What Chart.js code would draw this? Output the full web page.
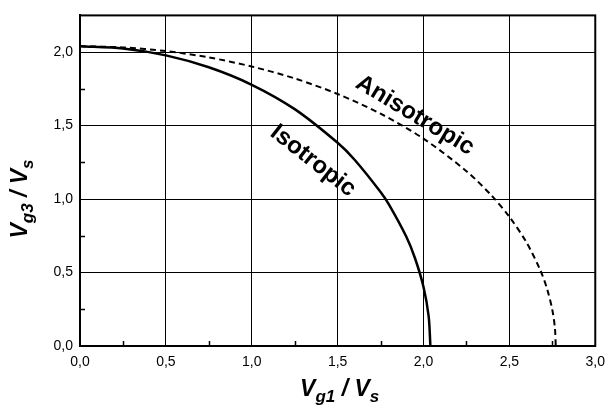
<!DOCTYPE html>
<html>
<head>
<meta charset="utf-8">
<script src="https://cdn.jsdelivr.net/npm/chart.js@4"></script>
<style>
  html, body { margin: 0; padding: 0; background: #fff; }
</style>
</head>
<body>
<canvas id="chart" width="613" height="413"></canvas>
<script>
// curves
const isoX = [0, 0.25, 0.5, 0.75, 1.0, 1.25, 1.5, 1.6, 1.75, 1.8, 1.9, 1.95, 2.0, 2.03, 2.04];
const isoY = [2.04, 2.025, 1.978, 1.897, 1.778, 1.612, 1.383, 1.266, 1.048, 0.96, 0.743, 0.599, 0.402, 0.202, 0];

const anisoX = [0, 0.25, 0.5, 0.75, 1.0, 1.25, 1.5, 1.75, 2.0, 2.25, 2.4, 2.5, 2.6, 2.68, 2.72, 2.75, 2.765, 2.77];
const anisoY = [2.04, 2.032, 2.007, 1.964, 1.902, 1.821, 1.715, 1.581, 1.411, 1.19, 1.019, 0.879, 0.704, 0.516, 0.386, 0.245, 0.123, 0];

const xTicks = [0, 0.5, 1.0, 1.5, 2.0, 2.5, 3.0];
const yTicks = [0, 0.5, 1.0, 1.5, 2.0];
const xMinor = [0.25, 0.75, 1.25, 1.75, 2.25, 2.75];
const yMinor = [0.25, 0.75, 1.25, 1.75];

const curveLabels = [
  { text: 'Isotropic', x: 1.356, y: 1.26, angle: 38 },
  { text: 'Anisotropic', x: 1.95, y: 1.57, angle: 31 }
];

const FONT = "'Liberation Sans', Arial, Helvetica, sans-serif";
const fmt = v => v.toFixed(1).replace('.', ',');

// draws "V<sub>sub</sub> / V<sub>s</sub>" centred on 0,0 of the current context
function drawRatio(ctx, sub) {
  const big = 'italic bold 23px ' + FONT;
  const small = 'italic bold 17px ' + FONT;
  const parts = [
    { t: 'V', f: big, dy: 0 },
    { t: sub, f: small, dy: 6 },
    { t: ' / ', f: big, dy: 0 },
    { t: 'V', f: big, dy: 0 },
    { t: 's', f: small, dy: 6 }
  ];
  let total = 0;
  parts.forEach(p => { ctx.font = p.f; p.w = ctx.measureText(p.t).width; total += p.w; });
  let x = -total / 2;
  ctx.textBaseline = 'alphabetic';
  ctx.textAlign = 'left';
  parts.forEach(p => {
    ctx.font = p.f;
    ctx.fillText(p.t, x, p.dy);
    x += p.w;
  });
}

const decor = {
  id: 'decor',
  afterDraw(chart) {
    const { ctx, chartArea: a, scales: { x, y } } = chart;
    ctx.save();
    ctx.strokeStyle = '#000';
    ctx.fillStyle = '#000';

    // minor ticks pointing inward
    ctx.lineWidth = 1.5;
    ctx.beginPath();
    xMinor.forEach(v => {
      const px = Math.round(x.getPixelForValue(v)) + 0.5;
      ctx.moveTo(px, a.bottom);
      ctx.lineTo(px, a.bottom - 5);
    });
    yMinor.forEach(v => {
      const py = Math.round(y.getPixelForValue(v)) + 0.5;
      ctx.moveTo(a.left, py);
      ctx.lineTo(a.left + 5, py);
    });
    ctx.stroke();

    // frame
    ctx.lineWidth = 2;
    ctx.strokeRect(a.left, a.top, a.right - a.left, a.bottom - a.top);

    // curve labels
    ctx.font = 'bold 24px ' + FONT;
    ctx.textAlign = 'center';
    ctx.textBaseline = 'middle';
    curveLabels.forEach(l => {
      ctx.save();
      ctx.translate(x.getPixelForValue(l.x), y.getPixelForValue(l.y));
      ctx.rotate(l.angle * Math.PI / 180);
      ctx.fillText(l.text, 0, 0);
      ctx.restore();
    });

    // axis titles
    ctx.save();
    ctx.translate((a.left + a.right) / 2 + 2, 396);
    drawRatio(ctx, 'g1');
    ctx.restore();

    ctx.save();
    ctx.translate(27, 199);
    ctx.rotate(-Math.PI / 2);
    drawRatio(ctx, 'g3');
    ctx.restore();

    ctx.restore();
  }
};

const toPts = (xs, ys) => xs.map((v, i) => ({ x: v, y: ys[i] }));

new Chart(document.getElementById('chart'), {
  type: 'scatter',
  data: {
    datasets: [
      {
        label: 'Isotropic',
        data: toPts(isoX, isoY),
        showLine: true,
        borderColor: '#000',
        borderWidth: 2.5,
        pointRadius: 0,
        tension: 0.3
      },
      {
        label: 'Anisotropic',
        data: toPts(anisoX, anisoY),
        showLine: true,
        borderColor: '#000',
        borderWidth: 2,
        borderDash: [6, 4],
        pointRadius: 0,
        tension: 0.3
      }
    ]
  },
  options: {
    responsive: false,
    animation: false,
    layout: { padding: { top: 7, right: 10, left: 0, bottom: 0 } },
    plugins: { legend: { display: false }, tooltip: { enabled: false } },
    scales: {
      x: {
        type: 'linear',
        min: 0,
        max: 3,
        afterBuildTicks: s => { s.ticks = xTicks.map(v => ({ value: v })); },
        afterFit: s => { s.height = 67; },
        grid: { color: '#000', lineWidth: 1, drawTicks: false },
        border: { display: true, color: '#000', width: 2 },
        ticks: {
          padding: 8,
          color: '#000',
          maxRotation: 0,
          autoSkip: false,
          font: { family: FONT, size: 14 },
          callback: v => fmt(v)
        }
      },
      y: {
        type: 'linear',
        min: 0,
        max: 2.25,
        afterBuildTicks: s => { s.ticks = yTicks.map(v => ({ value: v })); },
        afterFit: s => { s.width = 80; },
        grid: { color: '#000', lineWidth: 1, drawTicks: false },
        border: { display: true, color: '#000', width: 2 },
        ticks: {
          padding: 7,
          color: '#000',
          autoSkip: false,
          font: { family: FONT, size: 14 },
          callback: v => fmt(v)
        }
      }
    }
  },
  plugins: [decor]
});
</script>
</body>
</html>
